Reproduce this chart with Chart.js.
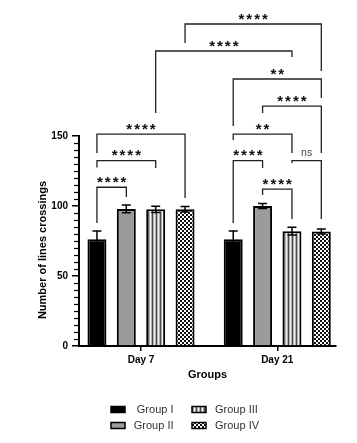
<!DOCTYPE html>
<html><head><meta charset="utf-8">
<script src="https://cdn.jsdelivr.net/npm/chart.js@4.4.1/dist/chart.umd.min.js"></script>
<style>html,body{margin:0;padding:0;background:#fff;} canvas{display:block;}</style>
</head><body>
<canvas id="c" width="357" height="443" style="width:357px;height:443px"></canvas>
<script>
// ---- data ----
const days = ['Day 7', 'Day 21'];
const groups = ['Group I', 'Group II', 'Group III', 'Group IV'];
const groupI = [76.3, 76.2];
const groupII = [97.9, 100];
const groupIII = [97.6, 82];
const groupIV = [97.7, 81.8];
const sdI = [5.8, 5.9];
const sdII = [2.8, 1.8];
const sdIII = [2.3, 2.8];
const sdIV = [1.9, 1.8];
const yTicks = [0, 50, 100, 150];
const yTitle = 'Number of lines crossings';
const xTitle = 'Groups';
// comparisons: [groupA, dayA, groupB, dayB, bracket level, leg end A, leg end B, label]
const comparisons = [
  [3, 0, 3, 1, 230, 216.4, 196.4, '****'],
  [2, 0, 2, 1, 210.7, 166.4, 206.4, '****'],
  [0, 1, 3, 1, 190.7, 157.1, 177.1, '**'],
  [1, 1, 3, 1, 171.4, 166.4, 137.9, '****'],
  [0, 1, 2, 1, 151.4, 147.1, 137.9, '**'],
  [0, 0, 3, 0, 151.4, 137.9, 105.7, '****'],
  [0, 0, 2, 0, 132.4, 127.5, 127.1, '****'],
  [0, 0, 1, 0, 113.4, 87.9, 106.4, '****'],
  [0, 1, 1, 1, 132.4, 87.9, 127.1, '****'],
  [1, 1, 2, 1, 112.1, 107.9, 90.7, '****'],
  [2, 1, 3, 1, 132.4, 130.7, 90.7, 'ns']
];

const means = [groupI, groupII, groupIII, groupIV];
const sds = [sdI, sdII, sdIII, sdIV];
const FONT = '"Liberation Sans", Arial, sans-serif';

const canvas = document.getElementById('c');
const mainCtx = canvas.getContext('2d');

function stripePattern() {
  const c = document.createElement('canvas'); c.width = 4; c.height = 4;
  const x = c.getContext('2d');
  ['#4a4a4a', '#b0b0b0', '#f2f2f2', '#b0b0b0'].forEach((col, i) => { x.fillStyle = col; x.fillRect(i, 0, 1, 4); });
  return mainCtx.createPattern(c, 'repeat');
}
function checkerPattern() {
  const c = document.createElement('canvas'); c.width = 4; c.height = 4;
  const x = c.getContext('2d');
  x.fillStyle = '#fff'; x.fillRect(0, 0, 4, 4);
  x.fillStyle = '#111'; x.fillRect(0, 0, 2, 2); x.fillRect(2, 2, 2, 2);
  return mainCtx.createPattern(c, 'repeat');
}
const fills = ['#000000', '#9b9b9b', stripePattern(), checkerPattern()];

const extras = {
  id: 'extras',
  afterDatasetsDraw(chart) {
    const ctx = chart.ctx, ys = chart.scales.y;
    ctx.save();
    ctx.strokeStyle = '#000'; ctx.lineWidth = 1.5;
    means.forEach((arr, g) => {
      const meta = chart.getDatasetMeta(g);
      arr.forEach((m, d) => {
        const x = meta.data[d].x;
        const top = ys.getPixelForValue(m + sds[g][d]);
        const bot = ys.getPixelForValue(m - sds[g][d]);
        ctx.beginPath();
        ctx.moveTo(x, top); ctx.lineTo(x, bot);
        ctx.moveTo(x - 4.5, top); ctx.lineTo(x + 4.5, top);
        ctx.moveTo(x - 4.5, bot); ctx.lineTo(x + 4.5, bot);
        ctx.stroke();
      });
    });
    ctx.restore();
  },
  afterDraw(chart) {
    const ctx = chart.ctx, ys = chart.scales.y, area = chart.chartArea;
    ctx.save();
    // minor ticks
    ctx.strokeStyle = '#000'; ctx.lineWidth = 1.2;
    for (let v = 5; v < 150; v += 5) {
      if (v % 50 === 0) continue;
      const py = Math.round(ys.getPixelForValue(v)) + 0.5;
      ctx.beginPath(); ctx.moveTo(area.left - 1, py); ctx.lineTo(area.left - 5, py); ctx.stroke();
    }
    // brackets
    ctx.strokeStyle = '#222'; ctx.lineWidth = 1.3;
    comparisons.forEach(([ga, da, gb, db, lvl, ea, eb, label]) => {
      const xa = chart.getDatasetMeta(ga).data[da].x;
      const xb = chart.getDatasetMeta(gb).data[db].x;
      const py = ys.getPixelForValue(lvl);
      ctx.beginPath();
      ctx.moveTo(xa, ys.getPixelForValue(ea));
      ctx.lineTo(xa, py); ctx.lineTo(xb, py);
      ctx.lineTo(xb, ys.getPixelForValue(eb));
      ctx.stroke();
      ctx.textAlign = 'center'; ctx.textBaseline = 'alphabetic';
      if (label === 'ns') {
        ctx.fillStyle = '#444'; ctx.font = '10.5px ' + FONT;
        try { ctx.letterSpacing = '0px'; } catch (e) {}
        ctx.fillText(label, (xa + xb) / 2, py - 5);
      } else {
        ctx.fillStyle = '#111'; ctx.font = 'bold 15px ' + FONT;
        try { ctx.letterSpacing = '2px'; } catch (e) {}
        ctx.fillText(label, (xa + xb) / 2 + 1, py - 0.5);
      }
    });
    try { ctx.letterSpacing = '0px'; } catch (e) {}
    // y title
    ctx.save();
    ctx.translate(43, 250); ctx.rotate(-Math.PI / 2);
    ctx.fillStyle = '#000'; ctx.font = 'bold 11px ' + FONT;
    ctx.textAlign = 'center'; ctx.textBaseline = 'middle';
    ctx.fillText(yTitle, 0, 0);
    ctx.restore();
    // legend (two columns)
    const cols = [
      { box: 111, text: 173.5, align: 'right', items: [0, 1] },
      { box: 192, text: 215, align: 'left', items: [2, 3] }
    ];
    const rows = [409.5, 425.5];
    ctx.font = '11px ' + FONT; ctx.textBaseline = 'middle';
    cols.forEach(col => {
      col.items.forEach((gi, r) => {
        const cy = rows[r];
        ctx.fillStyle = fills[gi];
        ctx.fillRect(col.box, cy - 3, 14, 6);
        ctx.strokeStyle = '#000'; ctx.lineWidth = 1.5;
        ctx.strokeRect(col.box, cy - 3, 14, 6);
        ctx.fillStyle = '#333'; ctx.textAlign = col.align;
        ctx.fillText(groups[gi], col.text, cy);
      });
    });
    ctx.restore();
  }
};

new Chart(canvas, {
  type: 'bar',
  data: {
    datasets: groups.map((g, i) => ({
      label: g,
      data: means[i].map((v, d) => ({ x: d + 1, y: v })),
      backgroundColor: fills[i],
      borderColor: '#000',
      borderWidth: 2,
      categoryPercentage: 0.862,
      barPercentage: 0.646
    }))
  },
  options: {
    responsive: false,
    animation: false,
    events: [],
    layout: { padding: { top: 136, right: 21, bottom: 0, left: 0 } },
    plugins: { legend: { display: false }, tooltip: { enabled: false } },
    scales: {
      x: {
        type: 'linear',
        offset: false,
        min: 0.545,
        max: 2.431,
        afterFit: s => { s.height = 97; },
        afterBuildTicks: s => { s.ticks = days.map((d, i) => ({ value: i + 1 })); },
        ticks: {
          callback: v => days[v - 1],
          color: '#000',
          font: { family: FONT, size: 10, weight: 'bold' },
          padding: 3,
          maxRotation: 0,
          autoSkip: false
        },
        grid: { offset: false, drawOnChartArea: false, tickLength: 5, color: '#000', lineWidth: 1.5 },
        border: { display: true, color: '#000', width: 2 },
        title: {
          display: true, text: xTitle, color: '#000',
          font: { family: FONT, size: 11, weight: 'bold' },
          padding: { top: 0, bottom: 61.4 }
        }
      },
      y: {
        min: 0,
        max: 150,
        afterFit: s => { s.width = 79; },
        afterBuildTicks: s => { s.ticks = yTicks.map(v => ({ value: v })); },
        ticks: {
          color: '#000',
          font: { family: FONT, size: 10, weight: 'bold' },
          padding: 4
        },
        grid: { drawOnChartArea: false, tickLength: 7, color: '#000', lineWidth: 1.5 },
        border: { display: true, color: '#000', width: 2 }
      }
    }
  },
  plugins: [extras]
});
</script>
</body></html>
